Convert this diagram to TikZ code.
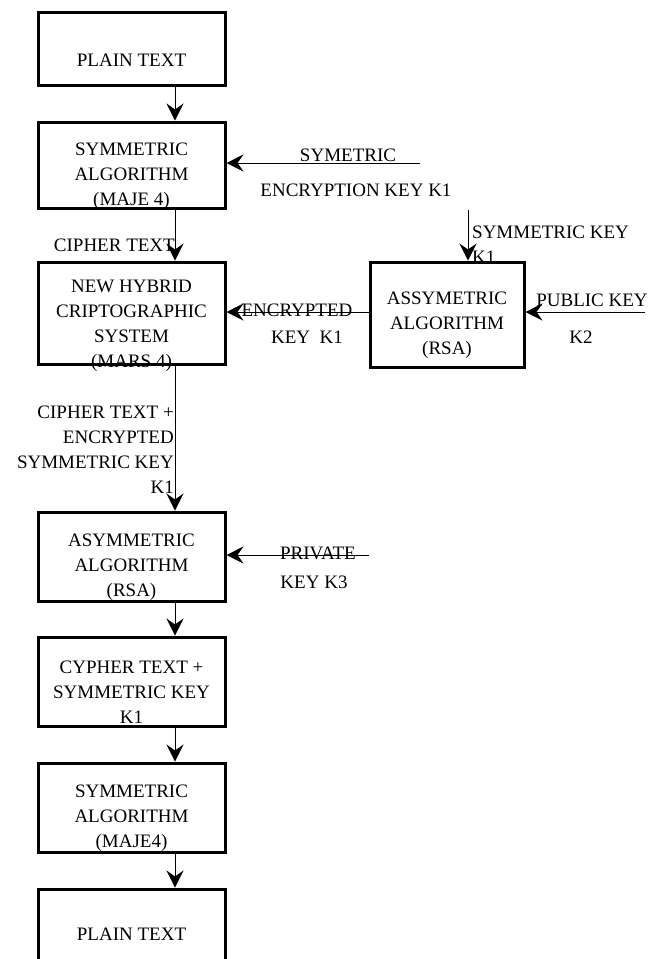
\documentclass[tikz,border=0pt]{standalone}
\usepackage{fontspec}
\setmainfont{Liberation Serif}
\usetikzlibrary{arrows.meta}
\begin{document}
\begin{tikzpicture}[x=1pt,y=-1pt,
  box/.style={draw,line width=3pt,rectangle,inner sep=0pt,minimum width=187pt},
  txt/.style={inner sep=0pt,align=center,font=\fontsize{19}{25}\selectfont},
  conn/.style={line width=1pt,-{Stealth[length=17pt,width=17pt,inset=6pt]}}]
\useasboundingbox (0,0) rectangle (660,959);
\clip (0,0) rectangle (660,959);
% boxes
\node[box,minimum height=73pt] (b1) at (131.5,48.5) {};
\node[box,minimum height=86pt] (b2) at (131.5,165) {};
\node[box,minimum height=102pt] (b3) at (131.5,313) {};
\node[box,minimum height=89pt] (b4) at (131.5,556.5) {};
\node[box,minimum height=89pt] (b5) at (131.5,681.5) {};
\node[box,minimum height=89pt] (b6) at (131.5,807.5) {};
\node[box,minimum height=80pt] (b7) at (131.5,929) {};
\node[box,minimum width=154pt,minimum height=105pt] (rsa) at (447,314.5) {};
% box texts
\node[txt] (t1) at (131.5,60) {PLAIN TEXT};
\node[txt] (t2) at (131.5,176.5) {SYMMETRIC\\ALGORITHM\\(MAJE 4)};
\node[txt] (t3) at (131.5,325.5) {NEW HYBRID\\CRIPTOGRAPHIC\\SYSTEM\\(MARS 4)};
\node[txt] (t4) at (131.5,567.5) {ASYMMETRIC\\ALGORITHM\\(RSA)};
\node[txt] (t5) at (131.5,692.5) {CYPHER TEXT +\\SYMMETRIC KEY\\K1};
\node[txt] (t6) at (131.5,818) {SYMMETRIC\\ALGORITHM\\(MAJE4)};
\node[txt] (t7) at (131.5,934) {PLAIN TEXT};
\node[txt] (tr) at (447,325) {ASSYMETRIC\\ALGORITHM\\(RSA)};
% labels
\node[txt] (l1) at (348,155) {SYMETRIC};
\node[txt] (l2) at (356,190) {ENCRYPTION KEY K1};
\node[txt,align=left,anchor=west] (l3) at (472,245) {SYMMETRIC KEY\\K1};
\node[txt,anchor=east] (l4) at (175,245) {CIPHER TEXT};
\node[txt] (l5) at (297,310) {ENCRYPTED};
\node[txt] (l6) at (307,337) {KEY\ \ K1};
\node[txt] (l7) at (592,300) {PUBLIC KEY};
\node[txt] (l8) at (581,337) {K2};
\node[txt,align=right,anchor=east] (l9) at (174,449.5) {CIPHER TEXT +\\ENCRYPTED\\SYMMETRIC KEY\\K1};
\node[txt] (l10) at (318,553) {PRIVATE};
\node[txt] (l11) at (314,582) {KEY K3};
% connector coordinates
\coordinate (cx) at (175,0);
\coordinate (s1) at (420,163);
\coordinate (s2) at (468,210);
\coordinate (s3) at (645,312);
\coordinate (s4) at (369,555);
% connectors
\draw[conn] (b1.south -| cx) -- (b2.north -| cx);
\draw[conn] (b2.south -| cx) -- (b3.north -| cx);
\draw[conn] (b3.south -| cx) -- (b4.north -| cx);
\draw[conn] (b4.south -| cx) -- (b5.north -| cx);
\draw[conn] (b5.south -| cx) -- (b6.north -| cx);
\draw[conn] (b6.south -| cx) -- (b7.north -| cx);
\draw[conn] (s1) -- (s1 -| b2.east);
\draw[conn] (s2) -- (s2 |- rsa.north);
\draw[conn] (rsa.west |- 0,312) -- (b3.east |- 0,312);
\draw[conn] (s3) -- (s3 -| rsa.east);
\draw[conn] (s4) -- (s4 -| b4.east);
\end{tikzpicture}
\end{document}
